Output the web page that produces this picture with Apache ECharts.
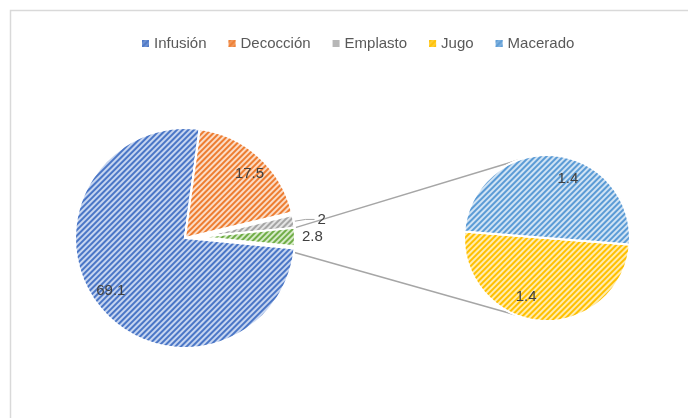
<!DOCTYPE html>
<html><head><meta charset="utf-8">
<script src="https://cdn.jsdelivr.net/npm/echarts@6/dist/echarts.min.js"></script>
<style>html,body{margin:0;padding:0;background:#fff}#c{width:688px;height:418px}</style>
</head><body><div id="c"></div>
<script>
// ---- data ----
const mainNames = ['Infusión', 'Decocción', 'Emplasto', 'Otros'];
const mainValues = [69.1, 17.5, 2, 2.8];
const subNames = ['Jugo', 'Macerado'];
const subValues = [1.4, 1.4];
const legendNames = ['Infusión', 'Decocción', 'Emplasto', 'Jugo', 'Macerado'];

// ---- styles ----
const pal = {
  'Infusión': ['#4a76c6', '#c6d5f0'],
  'Decocción': ['#ED7D31', '#fbdcc6'],
  'Emplasto': ['#A5A5A5', '#e3e3e3'],
  'Otros': ['#70AD47', '#d6eac8'],
  'Jugo': ['#FFC000', '#ffecb0'],
  'Macerado': ['#5B9BD5', '#d0e3f4']
};
const FONT = "'Liberation Sans', Arial, sans-serif";
const LBL = '#404040';
const CLEAR = { color: 'rgba(0,0,0,0)', borderWidth: 0 };
function sty(n) {
  const p = pal[n];
  return {
    color: p[1], borderColor: '#fff', borderWidth: 2,
    decal: { symbol: 'rect', symbolSize: 1, color: p[0], dashArrayX: [1, 0], dashArrayY: [2, 2], rotation: -Math.PI / 4 }
  };
}

// ---- geometry ----
const C1 = [185, 238], R1 = 110;   // main pie
const C2 = [200, 237], R2 = 95;    // exploded part
const C3 = [547, 238], R3 = 83;    // secondary pie
const total = mainValues.reduce((a, b) => a + b, 0);
const half = mainValues[3] / 2 / total * 360;
const mainStart = -half;
const subStart = -4.5;

const base = {
  type: 'pie', clockwise: true, animation: false, avoidLabelOverlap: false,
  silent: true, emphasis: { disabled: true }, labelLine: { show: false }
};

const seriesMain = Object.assign({}, base, {
  name: 'main', center: C1, radius: [0, R1], startAngle: mainStart, z: 2,
  label: { show: false },
  data: mainNames.map((n, i) => ({ name: n, value: mainValues[i], itemStyle: i < 2 ? sty(n) : CLEAR }))
});

const seriesExpl = Object.assign({}, base, {
  name: 'expl', center: C2, radius: [0, R2], startAngle: mainStart, z: 3,
  data: mainNames.map((n, i) => {
    if (i < 2) return { name: n, value: mainValues[i], itemStyle: CLEAR, label: { show: false }, labelLine: { show: false } };
    const isOther = i === 3;
    return {
      name: n, value: mainValues[i], itemStyle: sty(n),
      label: isOther
        ? { show: true, position: 'outside', formatter: '{c}', color: LBL, fontSize: 15, fontFamily: FONT, distanceToLabelLine: 4, padding: [7, 0, 0, 0] }
        : { show: true, position: 'outside', formatter: '{c}', color: LBL, fontSize: 15, fontFamily: FONT, distanceToLabelLine: 3, padding: [0, 0, 10, 0] },
      labelLine: isOther ? { show: false, length: 3, length2: 0 } : { show: true, length: 12, length2: 9, smooth: false, lineStyle: { color: '#a6a6a6', width: 1 } }
    };
  })
});

const seriesMainLbl = Object.assign({}, base, {
  name: 'mainLbl', center: C1, radius: [R1 * 0.6, R1], startAngle: mainStart - 3, z: 5,
  data: mainNames.map((n, i) => ({
    name: n, value: mainValues[i], itemStyle: CLEAR,
    label: i < 2 ? { show: true, position: 'inside', formatter: '{c}', color: LBL, fontSize: 15, fontFamily: FONT } : { show: false }
  }))
});

const seriesSub = Object.assign({}, base, {
  name: 'sub', center: C3, radius: [0, R3], startAngle: subStart, z: 2,
  label: { show: false },
  data: subNames.map((n, i) => ({ name: n, value: subValues[i], itemStyle: sty(n) }))
});

const seriesSubLbl = Object.assign({}, base, {
  name: 'subLbl', center: C3, radius: [R3 * 0.43, R3], startAngle: subStart - 15, z: 5,
  data: subNames.map((n, i) => ({
    name: n, value: subValues[i], itemStyle: CLEAR,
    label: { show: true, position: 'inside', formatter: '{c}', color: LBL, fontSize: 15, fontFamily: FONT }
  }))
});

// connector lines from the "other" slice to the secondary pie
const d = Math.PI / 180;
const p1 = [C2[0] + R2 * Math.cos(half * d), C2[1] - R2 * Math.sin(half * d)];
const p2 = [C1[0] + R1 * Math.cos(half * d), C1[1] + R1 * Math.sin(half * d) + 4];
const q1 = [C3[0] + R3 * Math.cos(110 * d), C3[1] - R3 * Math.sin(110 * d)];
const q2 = [C3[0] + R3 * Math.cos(-112 * d), C3[1] - R3 * Math.sin(-112 * d)];

const chart = echarts.init(document.getElementById('c'), null, { renderer: 'canvas' });
chart.setOption({
  backgroundColor: '#fff',
  textStyle: { fontFamily: FONT },
  legend: {
    top: 31, left: 137, itemWidth: 7, itemHeight: 7, itemGap: 22, icon: 'rect', selectedMode: false,
    textStyle: { fontSize: 15, color: '#595959', fontFamily: FONT },
    data: legendNames.map(n => ({ name: n, itemStyle: { color: pal[n][0], opacity: 0.8, borderWidth: 0 } }))
  },
  graphic: [
    { type: 'rect', z: 0, silent: true, shape: { x: 10.5, y: 10.5, width: 720, height: 440 }, style: { fill: 'none', stroke: '#d9d9d9', lineWidth: 1.5 } },
    { type: 'line', z: 1, silent: true, shape: { x1: p1[0], y1: p1[1], x2: q1[0], y2: q1[1] }, style: { stroke: '#a6a6a6', lineWidth: 1.5 } },
    { type: 'line', z: 1, silent: true, shape: { x1: p2[0], y1: p2[1], x2: q2[0], y2: q2[1] }, style: { stroke: '#a6a6a6', lineWidth: 1.5 } }
  ],
  series: [seriesMain, seriesExpl, seriesMainLbl, seriesSub, seriesSubLbl]
});
</script>
</body></html>
